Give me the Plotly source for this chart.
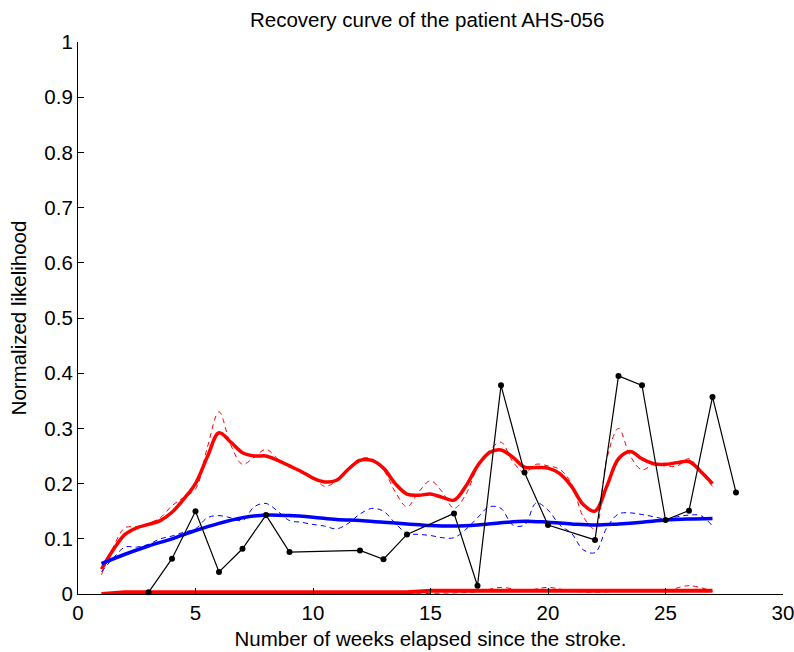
import plotly.graph_objects as go

# ---------------- data ----------------
weeks_half = [1 + 0.5 * i for i in range(53)]          # 1 .. 27 step 0.5
weeks_int = list(range(1, 28))                           # 1 .. 27

red_smooth = [0.045, 0.08, 0.108, 0.12, 0.126, 0.133, 0.148, 0.172, 0.2, 0.248,
              0.292, 0.275, 0.256, 0.25, 0.25, 0.242, 0.232, 0.222, 0.21, 0.203,
              0.206, 0.226, 0.242, 0.242, 0.228, 0.2, 0.181, 0.179, 0.181, 0.175,
              0.17, 0.195, 0.232, 0.256, 0.261, 0.248, 0.23, 0.229, 0.228, 0.218,
              0.195, 0.162, 0.15, 0.195, 0.245, 0.258, 0.245, 0.236, 0.235, 0.238,
              0.24, 0.222, 0.2]

red_raw = [0.035, 0.085, 0.12, 0.122, 0.128, 0.138, 0.16, 0.175, 0.19, 0.265,
           0.33, 0.27, 0.235, 0.248, 0.262, 0.245, 0.232, 0.222, 0.212, 0.195,
           0.205, 0.228, 0.245, 0.245, 0.225, 0.185, 0.158, 0.185, 0.205, 0.185,
           0.155, 0.18, 0.23, 0.26, 0.275, 0.24, 0.22, 0.235, 0.232, 0.226,
           0.2, 0.14, 0.118, 0.245, 0.3, 0.25, 0.225, 0.235, 0.232, 0.232,
           0.245, 0.22, 0.195]

blue_smooth = [0.055, 0.072, 0.087, 0.1, 0.115, 0.128, 0.138, 0.143, 0.142, 0.139,
               0.135, 0.133, 0.13, 0.127, 0.124, 0.123, 0.125, 0.129, 0.132, 0.13,
               0.127, 0.125, 0.127, 0.13, 0.134, 0.136, 0.137]

blue_raw = [0.04, 0.065, 0.085, 0.085, 0.09, 0.1, 0.105, 0.112, 0.118, 0.138,
            0.142, 0.138, 0.133, 0.158, 0.164, 0.15, 0.133, 0.13, 0.126, 0.123,
            0.118, 0.128, 0.145, 0.155, 0.15, 0.128, 0.11, 0.108, 0.106, 0.102,
            0.102, 0.117, 0.138, 0.158, 0.155, 0.125, 0.125, 0.165, 0.152, 0.125,
            0.11, 0.08, 0.075, 0.12, 0.145, 0.147, 0.144, 0.14, 0.136, 0.14,
            0.143, 0.142, 0.123]

low_smooth = [0.0, 0.003, 0.003, 0.003, 0.003, 0.003, 0.003, 0.003, 0.003, 0.003,
              0.003, 0.003, 0.003, 0.003, 0.006, 0.006, 0.006, 0.006, 0.006, 0.006,
              0.006, 0.006, 0.006, 0.006, 0.006, 0.006, 0.006]

low_raw = [0.0, 0.0, 0.0, 0.0, 0.0, 0.0, 0.0, 0.0, 0.0, 0.0,
           0.0, 0.0, 0.0, 0.0, 0.001, 0.002, 0.004, 0.012, 0.006, 0.012,
           0.005, 0.003, 0.005, 0.008, 0.006, 0.015, 0.005]

obs_weeks = [3, 4, 5, 6, 7, 8, 9, 12, 13, 14, 16, 17, 18, 19, 20, 22, 23, 24, 25, 26, 27, 28]
obs_values = [0.003, 0.064, 0.15, 0.04, 0.082, 0.143, 0.076, 0.079, 0.063, 0.108, 0.146,
              0.015, 0.378, 0.22, 0.125, 0.098, 0.395, 0.378, 0.134, 0.151, 0.357, 0.184]

x_ticks = [0, 5, 10, 15, 20, 25, 30]
y_ticks = [0, 0.1, 0.2, 0.3, 0.4, 0.5, 0.6, 0.7, 0.8, 0.9, 1]
y_tick_labels = ["0", "0.1", "0.2", "0.3", "0.4", "0.5", "0.6", "0.7", "0.8", "0.9", "1"]

# ---------------- figure ----------------
FONT = "Liberation Sans"
FS = 20.5
fig = go.Figure()

dash = "5px,4px"
fig.add_trace(go.Scatter(x=weeks_half, y=red_raw, mode="lines",
                         line=dict(color="#ff0000", width=1, dash=dash, shape="spline")))
fig.add_trace(go.Scatter(x=weeks_half, y=blue_raw, mode="lines",
                         line=dict(color="#0000ff", width=1, dash=dash, shape="spline")))
fig.add_trace(go.Scatter(x=weeks_int, y=low_raw, mode="lines",
                         line=dict(color="#ff0000", width=1, dash=dash, shape="spline")))
fig.add_trace(go.Scatter(x=weeks_half, y=red_smooth, mode="lines",
                         line=dict(color="#ff0000", width=3.5, shape="spline")))
fig.add_trace(go.Scatter(x=weeks_int, y=blue_smooth, mode="lines",
                         line=dict(color="#0000ff", width=3.5, shape="spline")))
fig.add_trace(go.Scatter(x=weeks_int, y=low_smooth, mode="lines",
                         line=dict(color="#ff0000", width=4)))
fig.add_trace(go.Scatter(x=obs_weeks, y=obs_values, mode="lines+markers",
                         line=dict(color="#000000", width=1.2),
                         marker=dict(color="#000000", size=6, symbol="circle"),
                         cliponaxis=False))

fig.update_layout(
    width=794, height=652,
    margin=dict(l=78, r=11, t=42, b=58),
    paper_bgcolor="white", plot_bgcolor="white",
    showlegend=False,
    font=dict(family=FONT, size=FS, color="#000000"),
    title=dict(text="Recovery curve of the patient AHS-056", x=0.538, xanchor="center",
               y=0.97, yanchor="middle", font=dict(family=FONT, size=FS, color="#000000")),
)
fig.update_xaxes(range=[0, 30], tickvals=x_ticks, ticktext=[str(v) for v in x_ticks],
                 automargin=False, ticklabeloverflow="allow",
                 showline=True, linecolor="#000000", linewidth=1.2, mirror=False,
                 ticks="inside", ticklen=6, tickcolor="#000000", showgrid=False,
                 zeroline=False,
                 title=dict(text="Number of weeks elapsed since the stroke.", standoff=8,
                            font=dict(family=FONT, size=FS)),
                 tickfont=dict(family=FONT, size=FS))
fig.update_yaxes(range=[0, 1], tickvals=y_ticks, ticktext=y_tick_labels,
                 automargin=False, ticklabeloverflow="allow",
                 showline=True, linecolor="#000000", linewidth=1.2, mirror=False,
                 ticks="inside", ticklen=6, tickcolor="#000000", showgrid=False,
                 zeroline=False,
                 title=dict(text="Normalized likelihood", standoff=12,
                            font=dict(family=FONT, size=FS)),
                 tickfont=dict(family=FONT, size=FS))

fig.write_html("out.html")
